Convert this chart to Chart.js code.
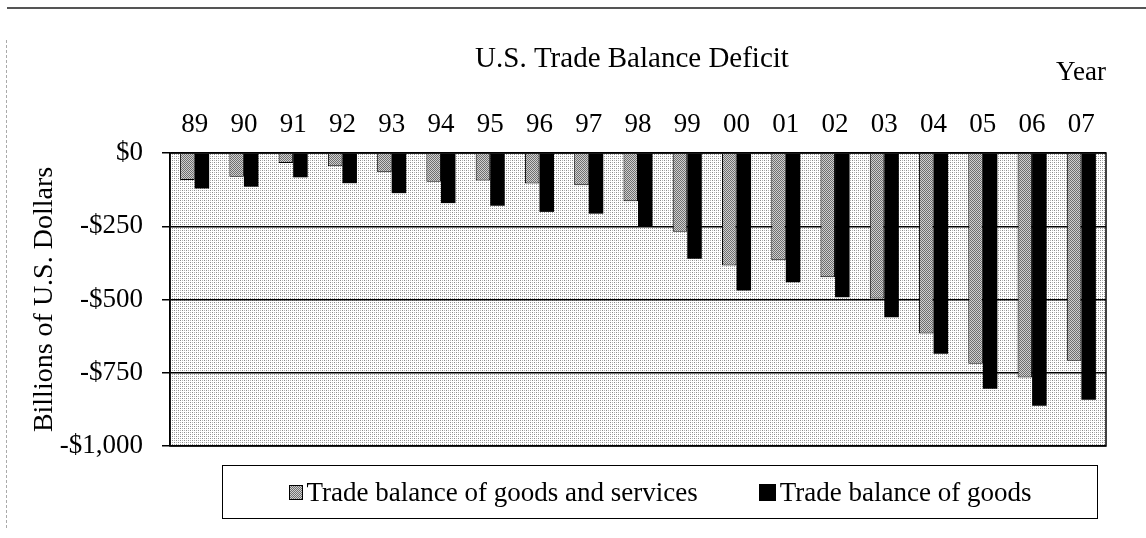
<!DOCTYPE html>
<html>
<head>
<meta charset="utf-8">
<title>U.S. Trade Balance Deficit</title>
<script src="https://cdn.jsdelivr.net/npm/chart.js@4.4.1/dist/chart.umd.min.js"></script>
<style>
  html, body { margin: 0; padding: 0; background: #fff; }
  #wrap { position: relative; width: 1146px; height: 538px; overflow: hidden; }
  #topRule { position: absolute; left: 7px; right: 0; top: 7px; border-top: 2px solid #555; }
  #leftRule { position: absolute; left: 6px; top: 40px; bottom: 10px; border-left: 1px dashed #aaa; }
  #legend {
    position: absolute; left: 222px; top: 465px; width: 876px; height: 54px;
    box-sizing: border-box; border: 1px solid #000;
    display: flex; align-items: center; justify-content: center; gap: 61px;
    font: 27px "Liberation Serif", "Times New Roman", serif; color: #000;
  }
  .item { display: flex; align-items: center; }
  .swatch { width: 12px; height: 13px; border: 1px solid #000; margin-right: 4px; }
  .sw0 { background: repeating-conic-gradient(#6e6e6e 0 25%, #d0d0d0 0 50%) 0 0 / 2px 2px; }
  .sw1 { background: #000; width: 15px; height: 15px; }
</style>
</head>
<body>
<div id="wrap">
  <canvas id="myChart" width="1146" height="538"></canvas>
  <div id="topRule"></div>
  <div id="leftRule"></div>
  <div id="legend"></div>
</div>
<script>
//data (billions of dollars)
const years = ["89", "90", "91", "92", "93", "94", "95", "96", "97", "98", "99", "00", "01", "02", "03", "04", "05", "06", "07"];
const goodsAndServices = [-92, -81, -34, -45, -66, -98, -94, -104, -110, -165, -269, -384, -366, -424, -497, -616, -719, -766, -709];
const goods = [-121, -115, -83, -103, -137, -171, -180, -201, -207, -252, -361, -469, -441, -492, -561, -685, -805, -863, -842];
const seriesNames = ["Trade balance of goods and services", "Trade balance of goods"];
const yMin = -1000;
const yMax = 0;
const yStep = 250;

Chart.defaults.font.family = '"Liberation Serif", "Times New Roman", serif';
Chart.defaults.color = "#000";

//------------------ small dotted patterns like the scan ------------------
const makePattern = function (size, dots) {
  const c = document.createElement("canvas");
  c.width = size;
  c.height = size;
  const g = c.getContext("2d");
  g.fillStyle = "#fff";
  g.fillRect(0, 0, size, size);
  dots.forEach(function (d) {
    g.fillStyle = d[2];
    g.fillRect(d[0], d[1], 1, 1);
  });
  return g.createPattern(c, "repeat");
};

const ctx = document.getElementById("myChart").getContext("2d");
const barPattern = makePattern(2, [[0, 0, "#6e6e6e"], [1, 1, "#6e6e6e"], [1, 0, "#d0d0d0"], [0, 1, "#d0d0d0"]]);
const areaPattern = makePattern(4, [[0, 0, "#8a8a8a"], [2, 2, "#8a8a8a"], [2, 0, "#b4b4b4"], [0, 2, "#b4b4b4"]]);

//plot area background + frame
const plotFrame = {
  id: "plotFrame",
  beforeDraw(chart) {
    const a = chart.chartArea;
    chart.ctx.save();
    chart.ctx.fillStyle = areaPattern;
    chart.ctx.fillRect(a.left, a.top, a.right - a.left, a.bottom - a.top);
    chart.ctx.restore();
  },
  afterDraw(chart) {
    const a = chart.chartArea;
    const c = chart.ctx;
    c.save();
    c.strokeStyle = "#000";
    c.lineWidth = 1.5;
    c.strokeRect(a.left, a.top, a.right - a.left, a.bottom - a.top);
    //title and axis name
    c.fillStyle = "#000";
    c.textAlign = "center";
    c.textBaseline = "alphabetic";
    c.font = '29px "Liberation Serif", "Times New Roman", serif';
    c.fillText("U.S. Trade Balance Deficit", 632, 67);
    c.font = '27px "Liberation Serif", "Times New Roman", serif';
    c.fillText("Year", 1081, 80);
    c.restore();
  },
};

const data = {
  labels: years,
  datasets: [
    {
      label: seriesNames[0],
      data: goodsAndServices,
      backgroundColor: barPattern,
      borderColor: "#000",
      borderWidth: 1,
    },
    {
      label: seriesNames[1],
      data: goods,
      backgroundColor: "#000",
      borderColor: "#000",
      borderWidth: 0,
    },
  ],
};

const config = {
  type: "bar",
  data,
  options: {
    responsive: false,
    animation: false,
    categoryPercentage: 0.59,
    barPercentage: 1,
    layout: { padding: { left: 20, right: 40, top: 20, bottom: 92 } },
    plugins: {
      legend: { display: false },
      tooltip: { enabled: false },
      title: { display: false },
    },
    scales: {
      x: {
        position: "top",
        grid: { display: false, drawTicks: false },
        border: { display: false },
        ticks: { font: { size: 27 }, padding: 12, maxRotation: 0, autoSkip: false },
        afterFit(scale) {
          scale.height = 133;
        },
      },
      y: {
        min: yMin,
        max: yMax,
        ticks: {
          stepSize: yStep,
          font: { size: 27 },
          padding: 19,
          callback: function (v) {
            if (v === 0) return "$0";
            return "-$" + Math.abs(v).toLocaleString("en-US");
          },
        },
        grid: { color: "#000", lineWidth: 1.5, tickLength: 8, tickColor: "#000" },
        border: { color: "#000", width: 1.5 },
        title: {
          display: true,
          text: "Billions of U.S. Dollars",
          font: { size: 28 },
          padding: { top: 8, bottom: 0 },
        },
        afterFit(scale) {
          scale.width = 150;
        },
      },
    },
  },
  plugins: [plotFrame],
};

const myChart = new Chart(ctx, config);

//legend box below the chart, built from the datasets
const legendBox = document.getElementById("legend");
myChart.data.datasets.forEach(function (ds, i) {
  const item = document.createElement("div");
  item.className = "item";
  const sw = document.createElement("span");
  sw.className = "swatch sw" + i;
  const txt = document.createElement("span");
  txt.innerText = ds.label;
  item.appendChild(sw);
  item.appendChild(txt);
  legendBox.appendChild(item);
});
</script>
</body>
</html>
